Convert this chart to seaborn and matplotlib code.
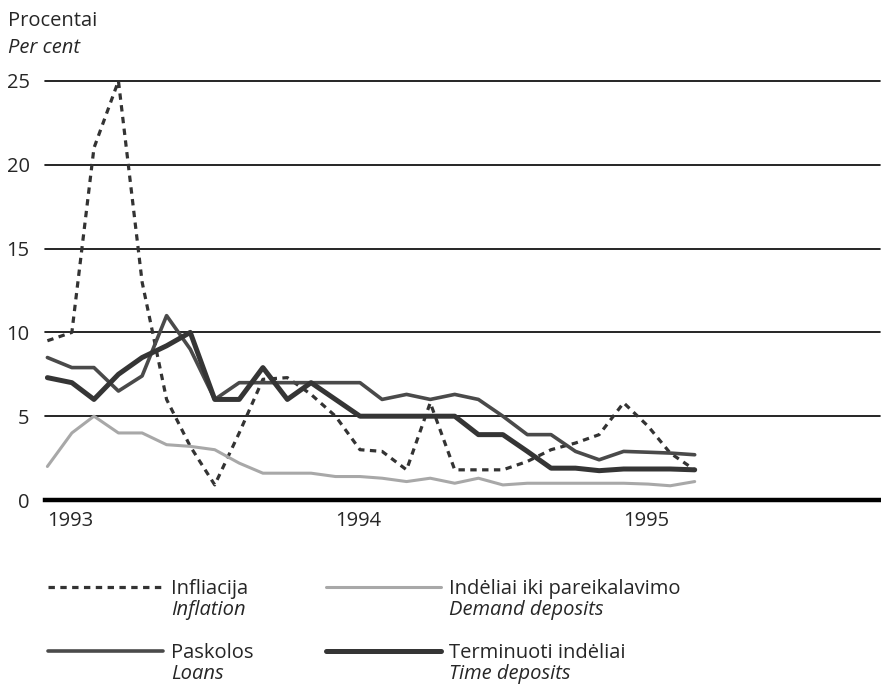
import matplotlib
matplotlib.use("Agg")
import matplotlib.pyplot as plt
import seaborn as sns
import pandas as pd

# monthly observations, Jan 1993 - Apr 1995
months = pd.date_range("1993-01-01", "1995-04-01", freq="MS")

inflation = [9.5, 10.0, 21.0, 25.0, 13.0, 6.0, 3.2, 0.9, 4.0, 7.2, 7.3, 6.3, 5.0, 3.0,
             2.9, 1.8, 5.8, 1.8, 1.8, 1.8, 2.3, 3.0, 3.4, 3.9, 5.8, 4.4, 2.8, 1.8]
loans = [8.5, 7.9, 7.9, 6.5, 7.4, 11.0, 9.0, 6.0, 7.0, 7.0, 7.0, 7.0, 7.0, 7.0,
         6.0, 6.3, 6.0, 6.3, 6.0, 5.0, 3.9, 3.9, 2.9, 2.4, 2.9, 2.85, 2.8, 2.7]
demand = [2.0, 4.0, 5.0, 4.0, 4.0, 3.3, 3.2, 3.0, 2.2, 1.6, 1.6, 1.6, 1.4, 1.4,
          1.3, 1.1, 1.3, 1.0, 1.3, 0.9, 1.0, 1.0, 1.0, 1.0, 1.0, 0.95, 0.85, 1.1]
time_dep = [7.3, 7.0, 6.0, 7.5, 8.5, 9.2, 10.0, 6.0, 6.0, 7.9, 6.0, 7.0, 6.0, 5.0,
            5.0, 5.0, 5.0, 5.0, 3.9, 3.9, 2.9, 1.9, 1.9, 1.75, 1.85, 1.85, 1.85, 1.8]

labels_lt = ["Infliacija", "Paskolos", "Indėliai iki pareikalavimo", "Terminuoti indėliai"]
labels_en = ["Inflation", "Loans", "Demand deposits", "Time deposits"]
year_ticks = pd.to_datetime(["1993-01-01", "1994-01-01", "1995-01-01"])
year_labels = ["1993", "1994", "1995"]
y_ticks = [0, 5, 10, 15, 20, 25]

sns.set_style("white")
plt.rcParams["font.family"] = ["Open Sans", "DejaVu Sans"]
FS = 14.5

fig = plt.figure(figsize=(8.81, 6.84), dpi=100)
ax = fig.add_axes([0.0511, 0.269, 0.948, 0.620])

styles = [
    dict(color="#333333", lw=2.3, ls=(0, (2.0, 1.7))),
    dict(color="#4a4a4a", lw=2.6, ls="-"),
    dict(color="#a8a8a8", lw=2.2, ls="-"),
    dict(color="#353535", lw=3.6, ls="-"),
]
series = [inflation, loans, demand, time_dep]
handles = []
for vals, st in zip(series, styles):
    sns.lineplot(x=months, y=vals, ax=ax, color=st["color"], linewidth=st["lw"],
                 linestyle=st["ls"], zorder=3)
    handles.append(ax.lines[-1])

for v in y_ticks[1:]:
    ax.axhline(v, color="black", lw=1.2, zorder=1, clip_on=False)

ax.set_ylim(0, 25.3)
ax.set_xlim(pd.Timestamp("1992-12-29"), pd.Timestamp("1995-11-22"))
sns.despine(ax=ax, left=True, top=True, right=True)
ax.spines["bottom"].set_linewidth(3.2)
ax.spines["bottom"].set_color("black")

ax.set_yticks(y_ticks)
ax.set_yticklabels([str(v) for v in y_ticks], fontsize=FS)
ax.set_xticks(year_ticks)
ax.set_xticklabels(year_labels, fontsize=FS, ha="left")
ax.tick_params(axis="both", length=0)
ax.tick_params(axis="y", pad=11)
ax.tick_params(axis="x", pad=8)
ax.set_xlabel("")
ax.set_ylabel("")

fig.text(0.009, 0.969, "Procentai", fontsize=FS, va="center", ha="left")
fig.text(0.009, 0.930, "Per cent", fontsize=FS, style="italic", va="center", ha="left")

leg = fig.legend(handles, labels_lt, ncol=2, loc="upper left",
                 bbox_to_anchor=(0.055, 1 - 579 / 684), frameon=False,
                 fontsize=FS, handlelength=5.7, handletextpad=0.4,
                 columnspacing=3.6, labelspacing=2.2, borderpad=0, borderaxespad=0)

# English names in italics under each legend entry
fig.canvas.draw()
inv = fig.transFigure.inverted()
for txt, en in zip(leg.get_texts(), labels_en):
    bb = txt.get_window_extent().transformed(inv)
    fig.text(bb.x0, bb.y0 - 0.0015, en, fontsize=FS, style="italic", va="top", ha="left")

fig.savefig("out.png", dpi=100)
